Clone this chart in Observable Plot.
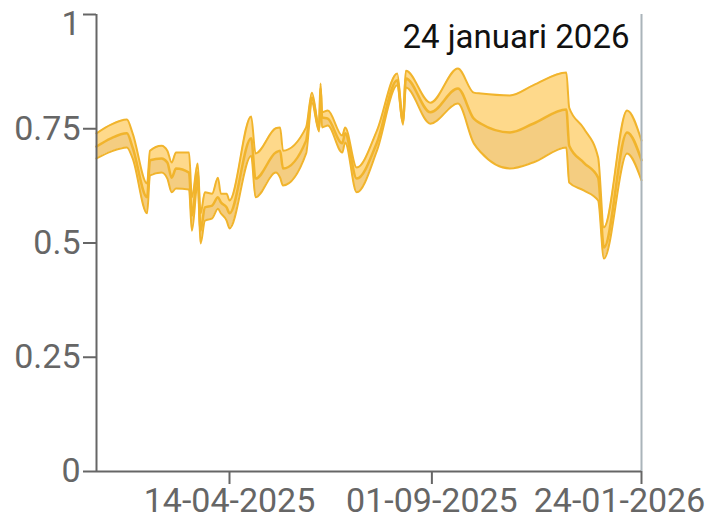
<!DOCTYPE html>
<html>
<head>
<meta charset="utf-8">
<script src="https://cdn.jsdelivr.net/npm/d3@7"></script>
<script src="https://cdn.jsdelivr.net/npm/@observablehq/plot@0.6"></script>
<style>
  html, body { margin: 0; padding: 0; background: #fff; }
</style>
</head>
<body>
<div id="chart"></div>
<script>
const dates = [
  "2025-01-12","2025-01-22","2025-02-02","2025-02-06","2025-02-16","2025-02-18","2025-02-26",
  "2025-03-02","2025-03-05","2025-03-08","2025-03-17","2025-03-19","2025-03-23","2025-03-25",
  "2025-03-28","2025-04-02","2025-04-06","2025-04-08","2025-04-12","2025-04-14","2025-04-29",
  "2025-05-02","2025-05-16","2025-05-19","2025-05-21","2025-06-06","2025-06-10","2025-06-15",
  "2025-06-16","2025-06-17","2025-06-21","2025-07-01","2025-07-03","2025-07-11","2025-07-25",
  "2025-08-08","2025-08-12","2025-08-14","2025-08-31","2025-09-19","2025-09-30","2025-10-05",
  "2025-10-25","2025-11-10","2025-12-03","2025-12-05","2025-12-15","2025-12-25","2025-12-29",
  "2026-01-14","2026-01-24"
];
const upper = [
  0.740,0.759,0.770,0.740,0.630,0.702,0.713,
  0.702,0.676,0.698,0.698,0.600,0.674,0.565,
  0.611,0.608,0.643,0.608,0.608,0.593,0.777,
  0.696,0.751,0.753,0.702,0.753,0.829,0.755,
  0.849,0.786,0.790,0.735,0.753,0.665,0.746,
  0.871,0.772,0.877,0.807,0.882,0.829,0.827,
  0.823,0.845,0.873,0.796,0.751,0.687,0.534,
  0.790,0.724
];
const middle = [
  0.711,0.729,0.740,0.709,0.600,0.681,0.685,
  0.676,0.643,0.663,0.654,0.560,0.654,0.527,
  0.578,0.582,0.600,0.589,0.578,0.565,0.729,
  0.641,0.698,0.702,0.663,0.724,0.818,0.751,
  0.838,0.775,0.772,0.718,0.740,0.641,0.720,
  0.856,0.766,0.860,0.786,0.838,0.772,0.761,
  0.742,0.761,0.792,0.713,0.676,0.643,0.490,
  0.742,0.681
];
const lower = [
  0.685,0.700,0.709,0.685,0.565,0.648,0.654,
  0.641,0.611,0.619,0.617,0.527,0.630,0.499,
  0.549,0.554,0.575,0.565,0.549,0.532,0.691,
  0.600,0.654,0.643,0.626,0.696,0.807,0.744,
  0.827,0.753,0.757,0.698,0.720,0.611,0.702,
  0.845,0.759,0.840,0.761,0.805,0.718,0.698,
  0.663,0.676,0.709,0.632,0.615,0.593,0.466,
  0.696,0.637
];
const xDomain = ["2025-01-12", "2026-01-24"];
const xTicks = ["2025-04-14", "2025-09-01", "2026-01-24"];
const yTicks = [0, 0.25, 0.5, 0.75, 1];
const currentDate = "2026-01-24";
const currentLabel = "24 januari 2026";

const parse = d3.utcParse("%Y-%m-%d");
const rows = dates.map((d, i) => ({date: parse(d), upper: upper[i], middle: middle[i], lower: lower[i]}));

const stroke = "#f1b42c";
const curve = "monotone-x";
const fmtDate = d3.utcFormat("%d-%m-%Y");
const fmtNum = d => String(d);
const xt = xTicks.map(parse);

const chart = Plot.plot({
  width: 713,
  height: 522,
  marginLeft: 96,
  marginRight: 72,
  marginTop: 14,
  marginBottom: 51,
  style: {fontFamily: "Roboto, sans-serif", fontSize: "34px", color: "#666", background: "#fff", overflow: "visible"},
  x: {type: "utc", domain: xDomain.map(parse)},
  y: {domain: [0, 1]},
  marks: [
    Plot.areaY(rows, {x: "date", y1: "middle", y2: "upper", fill: "#fed98b", curve}),
    Plot.areaY(rows, {x: "date", y1: "lower", y2: "middle", fill: "#f4cd81", curve}),
    Plot.lineY(rows, {x: "date", y: "upper", stroke, strokeWidth: 2, curve}),
    Plot.lineY(rows, {x: "date", y: "middle", stroke, strokeWidth: 2.5, curve}),
    Plot.lineY(rows, {x: "date", y: "lower", stroke, strokeWidth: 2, curve}),
    Plot.ruleX([parse(currentDate)], {stroke: "#aab4ba", strokeWidth: 2}),
    Plot.ruleX([parse(xDomain[0])], {stroke: "#666", strokeWidth: 2}),
    Plot.ruleY([0], {stroke: "#666", strokeWidth: 2}),
    Plot.text([currentLabel], {x: parse(currentDate), frameAnchor: "top", text: d => d, textAnchor: "end", lineAnchor: "top", dx: -12, dy: 10, fill: "#111", fontSize: 33}),
    // y ticks (lines)
    Plot.axisY({ticks: yTicks, tickSize: 13, tickPadding: 3, tickFormat: () => "", label: null, strokeWidth: 2}),
    // y labels, the top one nudged down to stay inside
    Plot.axisY({ticks: yTicks.slice(0, -1), tickSize: 0, tickPadding: 16, tickFormat: fmtNum, label: null}),
    Plot.axisY({ticks: yTicks.slice(-1), tickSize: 0, tickPadding: 16, tickFormat: fmtNum, label: null, dy: 10}),
    // x ticks (lines)
    Plot.axisX({ticks: xt, tickSize: 13, tickPadding: 3, tickFormat: () => "", label: null, strokeWidth: 2}),
    // x labels, the last one nudged left to stay inside
    Plot.axisX({ticks: xt.slice(0, -1), tickSize: 0, tickPadding: 16, tickFormat: fmtDate, label: null}),
    Plot.axisX({ticks: xt.slice(-1), tickSize: 0, tickPadding: 16, tickFormat: fmtDate, label: null, dx: -22})
  ]
});
document.getElementById("chart").appendChild(chart);
</script>
</body>
</html>
